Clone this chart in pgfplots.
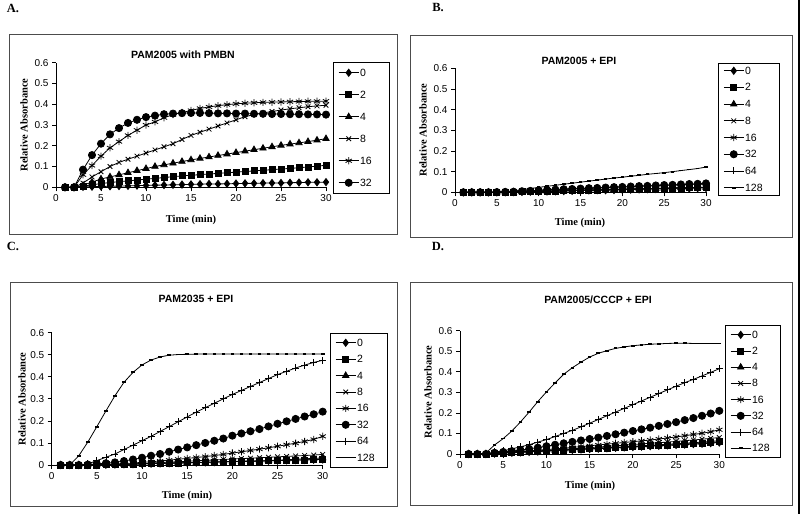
\documentclass[border=0pt]{standalone}
\usepackage{pgfplots}
\pgfplotsset{compat=1.18}
\usepackage{pgfplotstable}
\usepackage{fontspec}
\setmainfont{Liberation Sans}
\newfontfamily\timesfont{Liberation Serif}

% Panel A: PAM2005 with PMBN
\pgfplotstableread{
t  s0    s2    s4    s8    s16   s32
1  0     0     0     0     0     0
2  0     0     0     0     0     0
3  0.002 0.005 0.010 0.020 0.060 0.085
4  0.003 0.012 0.025 0.050 0.105 0.155
5  0.004 0.018 0.040 0.075 0.150 0.210
6  0.005 0.023 0.050 0.100 0.190 0.255
7  0.006 0.027 0.060 0.120 0.220 0.285
8  0.007 0.031 0.070 0.135 0.250 0.310
9  0.008 0.035 0.080 0.150 0.275 0.325
10 0.009 0.039 0.090 0.165 0.300 0.338
11 0.010 0.043 0.100 0.180 0.315 0.345
12 0.011 0.047 0.108 0.195 0.335 0.352
13 0.012 0.051 0.116 0.210 0.350 0.355
14 0.013 0.055 0.124 0.230 0.360 0.357
15 0.014 0.058 0.132 0.250 0.370 0.358
16 0.015 0.061 0.139 0.265 0.380 0.358
17 0.016 0.064 0.146 0.280 0.387 0.357
18 0.016 0.067 0.153 0.295 0.393 0.356
19 0.017 0.070 0.160 0.310 0.398 0.356
20 0.018 0.073 0.167 0.325 0.402 0.355
21 0.019 0.076 0.174 0.340 0.405 0.355
22 0.019 0.079 0.181 0.350 0.407 0.354
23 0.020 0.082 0.188 0.358 0.409 0.354
24 0.021 0.085 0.195 0.365 0.410 0.353
25 0.021 0.088 0.202 0.372 0.411 0.353
26 0.022 0.091 0.208 0.378 0.412 0.352
27 0.023 0.094 0.214 0.383 0.413 0.352
28 0.024 0.098 0.220 0.388 0.414 0.351
29 0.024 0.102 0.227 0.392 0.414 0.351
30 0.025 0.106 0.234 0.395 0.415 0.350
}\tabA

% Panel B: PAM2005 + EPI
\pgfplotstableread{
t  s0    s2    s4    s8    s16   s32   s64   s128
1  0     0     0     0     0     0     0     0
2  0     0     0     0     0     0     0     0
3  0     0     0     0     0     0     0     0
4  0     0     0     0     0     0     0     0
5  0     0     0     0     0     0.001 0.001 0.001
6  0     0     0     0.001 0.001 0.002 0.002 0.003
7  0.001 0.001 0.001 0.002 0.002 0.003 0.004 0.007
8  0.002 0.002 0.002 0.003 0.003 0.005 0.006 0.012
9  0.003 0.003 0.003 0.004 0.004 0.007 0.008 0.018
10 0.004 0.004 0.004 0.005 0.005 0.009 0.010 0.024
11 0.004 0.005 0.005 0.006 0.006 0.011 0.012 0.029
12 0.005 0.006 0.006 0.007 0.007 0.013 0.014 0.034
13 0.006 0.007 0.007 0.008 0.008 0.015 0.015 0.039
14 0.007 0.008 0.008 0.009 0.009 0.016 0.017 0.044
15 0.008 0.009 0.009 0.010 0.010 0.018 0.019 0.049
16 0.009 0.010 0.010 0.011 0.011 0.020 0.020 0.054
17 0.010 0.011 0.011 0.012 0.012 0.021 0.022 0.059
18 0.010 0.012 0.012 0.013 0.013 0.023 0.023 0.064
19 0.011 0.013 0.013 0.014 0.014 0.025 0.025 0.069
20 0.012 0.014 0.014 0.015 0.015 0.026 0.026 0.073
21 0.013 0.015 0.015 0.016 0.016 0.028 0.028 0.078
22 0.014 0.016 0.016 0.017 0.017 0.030 0.029 0.082
23 0.015 0.017 0.017 0.018 0.018 0.031 0.031 0.087
24 0.016 0.018 0.018 0.019 0.019 0.033 0.032 0.091
25 0.016 0.019 0.019 0.020 0.020 0.035 0.033 0.095
26 0.017 0.020 0.020 0.021 0.021 0.036 0.035 0.100
27 0.018 0.021 0.021 0.022 0.022 0.038 0.036 0.105
28 0.019 0.022 0.022 0.023 0.023 0.040 0.038 0.110
29 0.020 0.023 0.023 0.024 0.024 0.041 0.039 0.115
30 0.021 0.024 0.024 0.025 0.025 0.043 0.040 0.122
}\tabB

% Panel C: PAM2035 + EPI
\pgfplotstableread{
t  s0    s2    s4    s8    s16   s32   s64   s128
1  0     0     0     0     0     0     0     0
2  0     0     0     0     0     0     0     0
3  0     0     0     0     0     0     0     0.042
4  0     0     0     0     0.001 0.002 0.005 0.104
5  0     0     0     0.001 0.002 0.005 0.020 0.174
6  0.001 0.001 0.001 0.002 0.003 0.008 0.035 0.245
7  0.002 0.002 0.002 0.003 0.005 0.012 0.050 0.314
8  0.003 0.003 0.003 0.004 0.007 0.018 0.070 0.375
9  0.004 0.004 0.004 0.005 0.009 0.025 0.090 0.420
10 0.005 0.005 0.005 0.007 0.012 0.033 0.110 0.454
11 0.006 0.006 0.007 0.009 0.015 0.042 0.130 0.476
12 0.007 0.007 0.008 0.011 0.018 0.050 0.152 0.490
13 0.008 0.008 0.009 0.013 0.022 0.060 0.174 0.498
14 0.009 0.009 0.010 0.015 0.026 0.070 0.196 0.501
15 0.010 0.010 0.011 0.017 0.030 0.080 0.218 0.502
16 0.011 0.011 0.012 0.019 0.034 0.090 0.240 0.503
17 0.012 0.012 0.013 0.021 0.038 0.100 0.260 0.503
18 0.013 0.013 0.014 0.023 0.043 0.110 0.280 0.503
19 0.014 0.014 0.015 0.025 0.048 0.120 0.300 0.503
20 0.015 0.015 0.016 0.027 0.054 0.133 0.320 0.503
21 0.016 0.016 0.017 0.029 0.060 0.143 0.338 0.503
22 0.017 0.017 0.018 0.031 0.066 0.153 0.356 0.503
23 0.018 0.018 0.019 0.033 0.072 0.163 0.374 0.503
24 0.019 0.019 0.020 0.035 0.078 0.175 0.392 0.503
25 0.020 0.020 0.022 0.037 0.085 0.187 0.410 0.503
26 0.021 0.021 0.024 0.039 0.092 0.198 0.425 0.503
27 0.022 0.022 0.026 0.041 0.099 0.209 0.440 0.503
28 0.023 0.023 0.028 0.043 0.107 0.220 0.453 0.503
29 0.024 0.024 0.030 0.045 0.116 0.230 0.465 0.503
30 0.025 0.026 0.032 0.048 0.130 0.242 0.475 0.503
}\tabC

% Panel D: PAM2005/CCCP + EPI
\pgfplotstableread{
t  s0    s2    s4    s8    s16   s32   s64   s128
1  0     0     0     0     0     0     0     0
2  0     0     0     0     0     0     0     0
3  0     0     0     0     0     0     0     0.005
4  0.002 0.002 0.003 0.004 0.005 0.006 0.010 0.044
5  0.004 0.005 0.006 0.007 0.008 0.010 0.015 0.075
6  0.006 0.007 0.008 0.009 0.010 0.014 0.025 0.112
7  0.008 0.009 0.010 0.011 0.013 0.019 0.035 0.156
8  0.010 0.011 0.012 0.013 0.016 0.025 0.045 0.204
9  0.012 0.013 0.014 0.015 0.019 0.031 0.058 0.255
10 0.014 0.015 0.016 0.018 0.022 0.038 0.070 0.302
11 0.016 0.017 0.018 0.020 0.025 0.045 0.085 0.346
12 0.018 0.019 0.020 0.023 0.028 0.052 0.100 0.388
13 0.020 0.021 0.022 0.025 0.032 0.059 0.115 0.420
14 0.022 0.023 0.024 0.028 0.036 0.066 0.132 0.447
15 0.024 0.025 0.027 0.031 0.040 0.073 0.150 0.472
16 0.026 0.027 0.029 0.034 0.044 0.080 0.168 0.490
17 0.028 0.029 0.031 0.037 0.048 0.088 0.186 0.503
18 0.030 0.031 0.033 0.040 0.052 0.096 0.204 0.514
19 0.032 0.033 0.035 0.043 0.056 0.104 0.222 0.521
20 0.034 0.035 0.038 0.046 0.060 0.112 0.240 0.527
21 0.036 0.037 0.040 0.049 0.064 0.120 0.258 0.531
22 0.038 0.040 0.043 0.052 0.068 0.128 0.276 0.534
23 0.040 0.042 0.045 0.055 0.073 0.137 0.294 0.536
24 0.042 0.044 0.048 0.058 0.078 0.146 0.312 0.538
25 0.044 0.046 0.050 0.061 0.083 0.155 0.330 0.539
26 0.046 0.049 0.053 0.065 0.089 0.165 0.347 0.539
27 0.048 0.051 0.055 0.068 0.095 0.175 0.363 0.538
28 0.050 0.053 0.058 0.072 0.101 0.186 0.380 0.538
29 0.053 0.056 0.061 0.076 0.108 0.197 0.397 0.538
30 0.056 0.059 0.065 0.080 0.118 0.210 0.415 0.538
}\tabD

\pgfplotsset{
  panel/.style={
    scale only axis, clip=false, anchor=south west,
    xmin=0, xmax=30, ymin=0, ymax=0.6,
    axis x line*=bottom, axis y line*=left,
    axis line style={-, black, line width=0.8pt},
    tick align=outside, major tick length=4pt,
    tick style={black, line width=0.8pt},
    xtick={0,5,10,15,20,25,30},
    ytick={0,0.1,0.2,0.3,0.4,0.5,0.6},
    /pgf/number format/assume math mode=true,
    yticklabel style={/pgf/number format/fixed, /pgf/number format/precision=1},
    ticklabel style={font=\fontsize{10}{11}\selectfont},
    every axis plot/.append style={black, line width=0.8pt},
    legend cell align=left,
    legend image code/.code={\draw[mark repeat=2,mark phase=2,##1]
      plot coordinates {(0pt,0pt) (10pt,0pt) (20pt,0pt)};},
    legend style={anchor=north west, draw=black, line width=0.6pt, fill=white,
      font=\fontsize{10.5}{11}\selectfont, inner xsep=5pt,
      nodes={inner sep=1pt, text height=7pt, text depth=0pt}},
  },
  m0/.style={mark=diamond*, mark size=3.6pt},
  m2/.style={mark=square*, mark size=3pt},
  m4/.style={mark=triangle*, mark size=3.6pt},
  m8/.style={mark=x, mark size=3.3pt},
  m16/.style={mark=asterisk, mark size=3.6pt},
  m32/.style={mark=*, mark size=3.6pt},
  m64/.style={mark=+, mark size=3.5pt},
  m128/.style={mark=-, mark size=1.8pt, mark options={line width=1.8pt}},
}

\begin{document}
\begin{tikzpicture}
\path (0pt,0pt) rectangle (800pt,514pt);
\fill[black] (798pt,0pt) rectangle (800pt,514pt);

% panel frames
\draw[black!70, line width=0.7pt] (9pt,480pt) rectangle (397pt,280pt);
\draw[black!70, line width=0.7pt] (410pt,479pt) rectangle (792pt,277pt);
\draw[black!70, line width=0.7pt] (10pt,232pt) rectangle (397pt,8pt);
\draw[black!70, line width=0.7pt] (410pt,232pt) rectangle (792pt,9pt);

% panel letters
\tikzset{lett/.style={font=\timesfont\bfseries\fontsize{12.5}{13}\selectfont}}
\node[lett] at (13pt,506pt) {A.};
\node[lett] at (438pt,506pt) {B.};
\node[lett] at (13pt,268pt) {C.};
\node[lett] at (438pt,268pt) {D.};

% titles
\tikzset{ttl/.style={font=\bfseries\fontsize{10.5}{12}\selectfont}}
\node[ttl] at (183pt,459pt) {PAM2005 with PMBN};
\node[ttl] at (579pt,453pt) {PAM2005 + EPI};
\node[ttl] at (196pt,215pt) {PAM2035 + EPI};
\node[ttl] at (598pt,214pt) {PAM2005/CCCP + EPI};

% axis titles
\tikzset{axt/.style={font=\timesfont\bfseries\fontsize{10.5}{11}\selectfont}}
\node[axt, rotate=90] at (24pt,389pt) {Relative Absorbance};
\node[axt] at (191pt,294pt) {Time (min)};
\node[axt, rotate=90] at (423pt,384pt) {Relative Absorbance};
\node[axt] at (580pt,291pt) {Time (min)};
\node[axt, rotate=90] at (22pt,115pt) {Relative Absorbance};
\node[axt] at (187pt,18pt) {Time (min)};
\node[axt, rotate=90] at (428pt,122pt) {Relative Absorbance};
\node[axt] at (590pt,28pt) {Time (min)};

% A
\begin{axis}[panel, at={(56pt,326.7pt)}, width=270pt, height=124.6pt,
  legend style={at={(1.026,1.006)}, row sep=13pt, inner ysep=6pt,
    nodes={text width=23pt}}]
\addplot[m0] table[x=t, y=s0] {\tabA}; \addlegendentry{0}
\addplot[m2] table[x=t, y=s2] {\tabA}; \addlegendentry{2}
\addplot[m4] table[x=t, y=s4] {\tabA}; \addlegendentry{4}
\addplot[m8] table[x=t, y=s8] {\tabA}; \addlegendentry{8}
\addplot[m16] table[x=t, y=s16] {\tabA}; \addlegendentry{16}
\addplot[m32] table[x=t, y=s32] {\tabA}; \addlegendentry{32}
\end{axis}

% B
\begin{axis}[panel, at={(455pt,321.7pt)}, width=251pt, height=124pt,
  every mark/.append style={scale=0.85},
  legend style={at={(1.048,1.043)}, row sep=7.7pt, inner ysep=3pt,
    nodes={text width=28pt}}]
\addplot[m0] table[x=t, y=s0] {\tabB}; \addlegendentry{0}
\addplot[m2] table[x=t, y=s2] {\tabB}; \addlegendentry{2}
\addplot[m4] table[x=t, y=s4] {\tabB}; \addlegendentry{4}
\addplot[m8] table[x=t, y=s8] {\tabB}; \addlegendentry{8}
\addplot[m16] table[x=t, y=s16] {\tabB}; \addlegendentry{16}
\addplot[m32] table[x=t, y=s32] {\tabB}; \addlegendentry{32}
\addplot[m64] table[x=t, y=s64] {\tabB}; \addlegendentry{64}
\addplot[m128] table[x=t, y=s128] {\tabB}; \addlegendentry{128}
\end{axis}

% C
\begin{axis}[panel, at={(51.7pt,49pt)}, width=271pt, height=132.3pt,
  every mark/.append style={scale=0.9},
  legend style={at={(1.027,0.998)}, row sep=7.4pt, inner ysep=5pt,
    nodes={text width=24pt}}]
\addplot[m0] table[x=t, y=s0] {\tabC}; \addlegendentry{0}
\addplot[m2] table[x=t, y=s2] {\tabC}; \addlegendentry{2}
\addplot[m4] table[x=t, y=s4] {\tabC}; \addlegendentry{4}
\addplot[m8] table[x=t, y=s8] {\tabC}; \addlegendentry{8}
\addplot[m16] table[x=t, y=s16] {\tabC}; \addlegendentry{16}
\addplot[m32] table[x=t, y=s32] {\tabC}; \addlegendentry{32}
\addplot[m64] table[x=t, y=s64] {\tabC}; \addlegendentry{64}
\addplot[m128] table[x=t, y=s128] {\tabC}; \addlegendentry{128}
\end{axis}

% D
\begin{axis}[panel, at={(460pt,60pt)}, width=259.3pt, height=123.3pt,
  every mark/.append style={scale=0.9},
  legend style={at={(1.022,1.046)}, row sep=7.2pt, inner ysep=5pt,
    nodes={text width=22pt}}]
\addplot[m0] table[x=t, y=s0] {\tabD}; \addlegendentry{0}
\addplot[m2] table[x=t, y=s2] {\tabD}; \addlegendentry{2}
\addplot[m4] table[x=t, y=s4] {\tabD}; \addlegendentry{4}
\addplot[m8] table[x=t, y=s8] {\tabD}; \addlegendentry{8}
\addplot[m16] table[x=t, y=s16] {\tabD}; \addlegendentry{16}
\addplot[m32] table[x=t, y=s32] {\tabD}; \addlegendentry{32}
\addplot[m64] table[x=t, y=s64] {\tabD}; \addlegendentry{64}
\addplot[m128] table[x=t, y=s128] {\tabD}; \addlegendentry{128}
\end{axis}
\end{tikzpicture}
\end{document}
